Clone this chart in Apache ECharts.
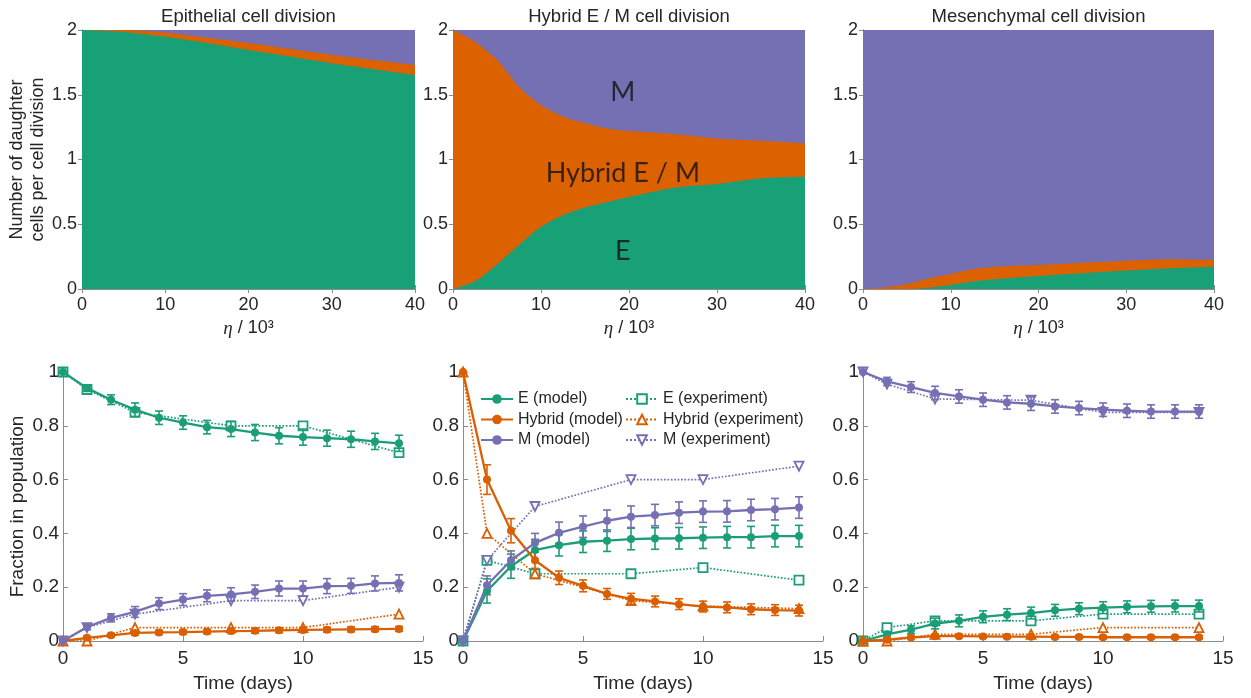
<!DOCTYPE html>
<html>
<head>
<meta charset="utf-8">
<title>EMT cell division</title>
<script src="https://cdn.jsdelivr.net/npm/echarts@6/dist/echarts.min.js"></script>
<style>
    html, body { margin: 0; padding: 0; background: #fff; }
    #chart { width: 1251px; height: 698px; }
</style>
</head>
<body>
<div id="chart"></div>
<script>
    // ---- top row: daughter cells per division vs eta / 10^3 ----
    // upper edge of each coloured band (E band from 0, Hybrid band above it, M band up to 2)
    const etaEpi = [0, 5, 10, 15, 20, 25, 30, 35, 40];
    const epiTopE = [2.0, 1.985, 1.948, 1.90, 1.846, 1.795, 1.743, 1.697, 1.652];
    const epiTopH = [2.0, 2.0, 1.98, 1.94, 1.90, 1.855, 1.807, 1.768, 1.73];
    const epiTopM = [2, 2, 2, 2, 2, 2, 2, 2, 2];

    const etaHyb = [0, 2.5, 5, 7.5, 10, 12.5, 15, 17.5, 20, 25, 30, 35, 40];
    const hybTopE = [0, 0.06, 0.19, 0.34, 0.48, 0.57, 0.63, 0.67, 0.71, 0.78, 0.81, 0.855, 0.867];
    const hybTopH = [2, 1.91, 1.77, 1.56, 1.42, 1.33, 1.28, 1.24, 1.22, 1.197, 1.163, 1.145, 1.125];
    const hybTopM = [2, 2, 2, 2, 2, 2, 2, 2, 2, 2, 2, 2, 2];

    const etaMes = [0, 2.5, 5, 7.5, 10, 12.5, 15, 20, 25, 30, 35, 40];
    const mesTopE = [0, 0, 0, 0.01, 0.031, 0.057, 0.075, 0.10, 0.121, 0.142, 0.16, 0.172];
    const mesTopH = [0, 0.013, 0.039, 0.082, 0.116, 0.152, 0.172, 0.185, 0.203, 0.219, 0.229, 0.224];
    const mesTopM = [2, 2, 2, 2, 2, 2, 2, 2, 2, 2, 2, 2];

    const regionLabels = ['M', 'Hybrid E / M', 'E'];
    const regionPos = [[19.3, 1.52], [19.3, 0.89], [19.3, 0.29]];

    // ---- bottom row: fraction in population vs time ----
    const days = [0, 1, 2, 3, 4, 5, 6, 7, 8, 9, 10, 11, 12, 13, 14];
    const expDays = [0, 1, 3, 7, 10, 14];

    const epiEModel = [1.0, 0.94, 0.897, 0.86, 0.83, 0.812, 0.795, 0.788, 0.775, 0.763, 0.758, 0.754, 0.75, 0.742, 0.735];
    const epiEErr = [0, 0.012, 0.018, 0.025, 0.025, 0.025, 0.025, 0.028, 0.03, 0.03, 0.03, 0.03, 0.03, 0.03, 0.03];
    const epiHModel = [0, 0.012, 0.021, 0.03, 0.032, 0.033, 0.035, 0.037, 0.038, 0.04, 0.041, 0.042, 0.043, 0.044, 0.045];
    const epiHErr = [0, 0.006, 0.007, 0.008, 0.008, 0.008, 0.008, 0.009, 0.009, 0.009, 0.009, 0.009, 0.009, 0.009, 0.009];
    const epiMModel = [0, 0.052, 0.086, 0.108, 0.139, 0.154, 0.168, 0.173, 0.183, 0.195, 0.195, 0.204, 0.205, 0.214, 0.216];
    const epiMErr = [0, 0.01, 0.015, 0.02, 0.022, 0.022, 0.022, 0.025, 0.025, 0.028, 0.028, 0.028, 0.028, 0.028, 0.03];
    const epiEExp = [1.0, 0.935, 0.85, 0.80, 0.80, 0.70];
    const epiHExp = [0, 0.0, 0.05, 0.05, 0.05, 0.10];
    const epiMExp = [0, 0.05, 0.10, 0.15, 0.15, 0.20];

    const hybEModel = [0, 0.186, 0.278, 0.338, 0.356, 0.369, 0.373, 0.379, 0.381, 0.382, 0.384, 0.386, 0.386, 0.39, 0.39];
    const hybEErr = [0, 0.045, 0.045, 0.04, 0.04, 0.04, 0.04, 0.04, 0.04, 0.04, 0.04, 0.04, 0.04, 0.04, 0.04];
    const hybHModel = [1, 0.60, 0.41, 0.30, 0.235, 0.205, 0.175, 0.157, 0.147, 0.137, 0.128, 0.125, 0.118, 0.115, 0.113];
    const hybHErr = [0, 0.055, 0.045, 0.03, 0.025, 0.022, 0.02, 0.02, 0.02, 0.02, 0.02, 0.02, 0.02, 0.02, 0.02];
    const hybMModel = [0, 0.207, 0.30, 0.365, 0.402, 0.425, 0.447, 0.462, 0.468, 0.477, 0.481, 0.482, 0.487, 0.49, 0.496];
    const hybMErr = [0, 0.035, 0.035, 0.035, 0.04, 0.04, 0.04, 0.04, 0.04, 0.04, 0.04, 0.04, 0.04, 0.04, 0.04];
    const hybEExp = [0, 0.30, 0.25, 0.25, 0.273, 0.226];
    const hybHExp = [1, 0.40, 0.25, 0.15, 0.13, 0.12];
    const hybMExp = [0, 0.30, 0.50, 0.60, 0.60, 0.65];

    const mesEModel = [0, 0.025, 0.042, 0.065, 0.075, 0.09, 0.098, 0.104, 0.114, 0.12, 0.124, 0.127, 0.129, 0.13, 0.13];
    const mesEErr = [0, 0.01, 0.015, 0.02, 0.022, 0.022, 0.022, 0.022, 0.022, 0.022, 0.022, 0.022, 0.022, 0.022, 0.022];
    const mesHModel = [0, 0.005, 0.013, 0.018, 0.018, 0.017, 0.016, 0.016, 0.015, 0.015, 0.014, 0.014, 0.014, 0.014, 0.014];
    const mesHErr = [0, 0.005, 0.005, 0.006, 0.006, 0.006, 0.006, 0.006, 0.006, 0.006, 0.006, 0.006, 0.006, 0.006, 0.006];
    const mesMModel = [1, 0.965, 0.944, 0.922, 0.909, 0.897, 0.887, 0.882, 0.872, 0.866, 0.86, 0.856, 0.853, 0.853, 0.853];
    const mesMErr = [0, 0.015, 0.02, 0.025, 0.025, 0.025, 0.025, 0.025, 0.025, 0.025, 0.025, 0.025, 0.025, 0.025, 0.025];
    const mesEExp = [0, 0.05, 0.075, 0.075, 0.10, 0.10];
    const mesHExp = [0, 0, 0.025, 0.025, 0.05, 0.05];
    const mesMExp = [1, 0.955, 0.90, 0.895, 0.85, 0.85];

    const titles = ['Epithelial cell division', 'Hybrid E / M cell division', 'Mesenchymal cell division'];

    const GREEN = '#1b9e77', ORANGE = '#d95f02', PURPLE = '#7570b3';
    const AREA_GREEN = '#18a077', AREA_ORANGE = '#dc6100', AREA_PURPLE = '#7570b3';
    const TXT = '#262626', AXIS = '#8c8c8c';
    const FONT = 'Liberation Sans, Arial, sans-serif';

    const topGrids = [
        {left: 82, top: 30, width: 333, height: 259},
        {left: 453, top: 30, width: 352, height: 259},
        {left: 863, top: 30, width: 351, height: 259}
    ];
    const botGrids = [
        {left: 63, top: 372, width: 360, height: 269},
        {left: 463, top: 372, width: 360, height: 269},
        {left: 863, top: 372, width: 360, height: 269}
    ];

    const zip = (xs, ys) => xs.map((x, i) => [x, ys[i]]);

    // error bars: vertical line with caps
    function errRender(params, api) {
        const x = api.value(0);
        const lo = api.coord([x, api.value(1)]);
        const hi = api.coord([x, api.value(2)]);
        const w = 4;
        const style = {stroke: api.visual('color'), lineWidth: 1.6};
        return {
            type: 'group',
            children: [
                {type: 'line', shape: {x1: lo[0], y1: lo[1], x2: hi[0], y2: hi[1]}, style: style},
                {type: 'line', shape: {x1: lo[0] - w, y1: lo[1], x2: lo[0] + w, y2: lo[1]}, style: style},
                {type: 'line', shape: {x1: hi[0] - w, y1: hi[1], x2: hi[0] + w, y2: hi[1]}, style: style}
            ]
        };
    }

    function errSeries(idx, vals, errs, color) {
        const data = [];
        days.forEach((d, i) => {
            if (errs[i] > 0) data.push([d, vals[i] - errs[i], vals[i] + errs[i]]);
        });
        return {
            type: 'custom', xAxisIndex: idx, yAxisIndex: idx,
            renderItem: errRender, itemStyle: {color: color},
            encode: {x: 0, y: [1, 2]}, data: data, z: 3, silent: true
        };
    }

    function modelSeries(idx, name, vals, color) {
        return {
            name: name, type: 'line', xAxisIndex: idx, yAxisIndex: idx,
            data: zip(days, vals), symbol: 'circle', symbolSize: 8,
            lineStyle: {color: color, width: 2.3}, itemStyle: {color: color},
            z: 4, silent: true
        };
    }

    function expSeries(idx, name, vals, color, symbol) {
        return {
            name: name, type: 'line', xAxisIndex: idx, yAxisIndex: idx,
            data: zip(expDays, vals), symbol: symbol, symbolSize: 9,
            lineStyle: {color: color, width: 1.7, type: 'dotted'},
            itemStyle: {color: '#fff', borderColor: color, borderWidth: 1.8},
            z: 2, silent: true
        };
    }

    // filled bands: each area fills from its upper edge down to 0, later ones drawn on top
    function areaSeries(idx, xs, vals, color, z) {
        return {
            type: 'line', xAxisIndex: idx, yAxisIndex: idx,
            data: zip(xs, vals), smooth: 0.25,
            symbol: 'none', lineStyle: {width: 0}, z: z,
            areaStyle: {color: color, opacity: 1, origin: 'start'}, silent: true
        };
    }

    const series = [
        areaSeries(0, etaEpi, epiTopM, AREA_PURPLE, 1),
        areaSeries(0, etaEpi, epiTopH, AREA_ORANGE, 2),
        areaSeries(0, etaEpi, epiTopE, AREA_GREEN, 3),
        areaSeries(1, etaHyb, hybTopM, AREA_PURPLE, 1),
        areaSeries(1, etaHyb, hybTopH, AREA_ORANGE, 2),
        areaSeries(1, etaHyb, hybTopE, AREA_GREEN, 3),
        areaSeries(2, etaMes, mesTopM, AREA_PURPLE, 1),
        areaSeries(2, etaMes, mesTopH, AREA_ORANGE, 2),
        areaSeries(2, etaMes, mesTopE, AREA_GREEN, 3),
        {
            type: 'scatter', xAxisIndex: 1, yAxisIndex: 1, symbolSize: 0, z: 10, silent: true,
            data: regionLabels.map((t, i) => ({name: t, value: regionPos[i]})),
            label: {show: true, position: 'inside', formatter: '{b}', fontSize: 27,
                fontFamily: 'Lato, Open Sans, sans-serif', color: '#111'}
        }
    ];

    const bottomSets = [
        [epiEModel, epiEErr, epiHModel, epiHErr, epiMModel, epiMErr, epiEExp, epiHExp, epiMExp],
        [hybEModel, hybEErr, hybHModel, hybHErr, hybMModel, hybMErr, hybEExp, hybHExp, hybMExp],
        [mesEModel, mesEErr, mesHModel, mesHErr, mesMModel, mesMErr, mesEExp, mesHExp, mesMExp]
    ];
    bottomSets.forEach((s, k) => {
        const idx = k + 3;
        series.push(expSeries(idx, 'E (experiment)', s[6], GREEN, 'rect'));
        series.push(expSeries(idx, 'Hybrid (experiment)', s[7], ORANGE, 'triangle'));
        series.push(expSeries(idx, 'M (experiment)', s[8], PURPLE, 'path://M0,0 L10,0 L5,9 Z'));
        series.push(errSeries(idx, s[0], s[1], GREEN));
        series.push(errSeries(idx, s[2], s[3], ORANGE));
        series.push(errSeries(idx, s[4], s[5], PURPLE));
        series.push(modelSeries(idx, 'E (model)', s[0], GREEN));
        series.push(modelSeries(idx, 'Hybrid (model)', s[2], ORANGE));
        series.push(modelSeries(idx, 'M (model)', s[4], PURPLE));
    });

    const grid = topGrids.concat(botGrids);
    const xAxis = [], yAxis = [];
    const labelTop = {color: TXT, fontSize: 18, fontFamily: FONT};
    const labelBot = {color: TXT, fontSize: 19, fontFamily: FONT};

    topGrids.forEach((g, i) => {
        xAxis.push({
            gridIndex: i, type: 'value', min: 0, max: 40, interval: 10,
            axisLine: {show: true, onZero: false, lineStyle: {color: AXIS}},
            axisTick: {show: true, inside: true, length: 4, lineStyle: {color: AXIS}},
            splitLine: {show: false}, axisLabel: Object.assign({margin: 7}, labelTop),
            name: '{i|η} / 10³', nameLocation: 'middle', nameGap: 30,
            nameTextStyle: {color: TXT, fontSize: 18, fontFamily: FONT,
                rich: {i: {fontFamily: 'Liberation Serif, serif', fontStyle: 'italic', fontSize: 19, color: TXT}}}
        });
        yAxis.push({
            gridIndex: i, type: 'value', min: 0, max: 2, interval: 0.5,
            axisLine: {show: true, onZero: false, lineStyle: {color: AXIS}},
            axisTick: {show: true, inside: true, length: 4, lineStyle: {color: AXIS}},
            splitLine: {show: false}, axisLabel: Object.assign({margin: 5}, labelTop),
            name: i === 0 ? 'Number of daughter\ncells per cell division' : '',
            nameLocation: 'middle', nameGap: 27, nameRotate: 90,
            nameTextStyle: {color: TXT, fontSize: 18, fontFamily: FONT, lineHeight: 21}
        });
    });
    botGrids.forEach((g, i) => {
        xAxis.push({
            gridIndex: i + 3, type: 'value', min: 0, max: 15, interval: 5,
            axisLine: {show: true, onZero: false, lineStyle: {color: AXIS}},
            axisTick: {show: true, inside: true, length: 5, lineStyle: {color: AXIS}},
            splitLine: {show: false}, axisLabel: Object.assign({margin: 8}, labelBot),
            name: 'Time (days)', nameLocation: 'middle', nameGap: 33,
            nameTextStyle: {color: TXT, fontSize: 19, fontFamily: FONT}
        });
        yAxis.push({
            gridIndex: i + 3, type: 'value', min: 0, max: 1, interval: 0.2,
            axisLine: {show: true, onZero: false, lineStyle: {color: AXIS}},
            axisTick: {show: true, inside: true, length: 5, lineStyle: {color: AXIS}},
            splitLine: {show: false}, axisLabel: Object.assign({margin: 4}, labelBot),
            name: i === 0 ? 'Fraction in population' : '',
            nameLocation: 'middle', nameGap: 36, nameRotate: 90,
            nameTextStyle: {color: TXT, fontSize: 19, fontFamily: FONT}
        });
    });
    // box lines (top / right) for the upper panels
    topGrids.forEach((g, i) => {
        xAxis.push({
            gridIndex: i, type: 'value', min: 0, max: 40, interval: 10, position: 'top',
            axisLine: {show: true, lineStyle: {color: AXIS}},
            axisTick: {show: true, inside: true, length: 4, lineStyle: {color: AXIS}},
            axisLabel: {show: false}, splitLine: {show: false}
        });
        yAxis.push({
            gridIndex: i, type: 'value', min: 0, max: 2, interval: 0.5, position: 'right',
            axisLine: {show: true, lineStyle: {color: AXIS}},
            axisTick: {show: true, inside: true, length: 4, lineStyle: {color: AXIS}},
            axisLabel: {show: false}, splitLine: {show: false}
        });
    });

    const title = topGrids.map((g, i) => ({
        text: titles[i], left: g.left + g.width / 2, top: 7, padding: 0, textAlign: 'center',
        textStyle: {color: TXT, fontSize: 18.5, fontWeight: 'normal', fontFamily: FONT}
    }));

    const legendText = {color: TXT, fontSize: 16, fontFamily: FONT};
    const legend = [
        {data: ['E (model)', 'Hybrid (model)', 'M (model)'], orient: 'vertical',
            left: 480, top: 391, padding: 0, itemWidth: 32, itemHeight: 12, itemGap: 4.5,
            selectedMode: false, textStyle: legendText},
        {data: ['E (experiment)', 'Hybrid (experiment)', 'M (experiment)'], orient: 'vertical',
            left: 625, top: 391, padding: 0, itemWidth: 32, itemHeight: 12, itemGap: 4.5,
            selectedMode: false, textStyle: legendText}
    ];

    const myChart = echarts.init(document.getElementById('chart'), null, {renderer: 'canvas'});
    myChart.setOption({
        animation: false,
        backgroundColor: '#fff',
        title: title,
        legend: legend,
        grid: grid,
        xAxis: xAxis,
        yAxis: yAxis,
        series: series
    });
</script>
</body>
</html>
